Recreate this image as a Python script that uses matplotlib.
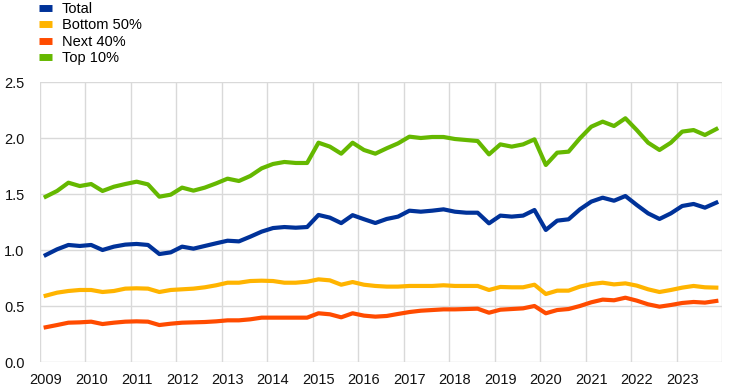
import numpy as np
import matplotlib.pyplot as plt
from matplotlib.lines import Line2D

plt.rcParams['font.family'] = ['Liberation Sans', 'DejaVu Sans']

# quarterly values, 2009Q1 - 2023Q4
total = [0.955, 1.006, 1.045, 1.036, 1.045, 1.000, 1.030, 1.048,
         1.054, 1.045, 0.964, 0.979, 1.030, 1.012, 1.036, 1.060,
         1.083, 1.077, 1.119, 1.164, 1.196, 1.205, 1.199, 1.205,
         1.313, 1.289, 1.240, 1.311, 1.275, 1.241, 1.277, 1.298,
         1.351, 1.342, 1.351, 1.363, 1.342, 1.333, 1.333, 1.238,
         1.307, 1.298, 1.307, 1.357, 1.179, 1.262, 1.274, 1.363,
         1.432, 1.467, 1.440, 1.482, 1.402, 1.327, 1.277, 1.327,
         1.393, 1.411, 1.378, 1.423]
bottom50 = [0.592, 0.619, 0.634, 0.643, 0.643, 0.625, 0.634, 0.655,
            0.658, 0.655, 0.625, 0.643, 0.649, 0.655, 0.667, 0.685,
            0.708, 0.708, 0.723, 0.726, 0.723, 0.708, 0.708, 0.717,
            0.738, 0.729, 0.690, 0.714, 0.690, 0.679, 0.673, 0.673,
            0.679, 0.679, 0.679, 0.685, 0.679, 0.679, 0.679, 0.643,
            0.670, 0.667, 0.667, 0.690, 0.607, 0.637, 0.637, 0.673,
            0.696, 0.708, 0.693, 0.702, 0.682, 0.649, 0.625, 0.643,
            0.664, 0.679, 0.667, 0.664]
next40 = [0.310, 0.330, 0.351, 0.354, 0.360, 0.339, 0.351, 0.360,
          0.363, 0.360, 0.330, 0.342, 0.351, 0.354, 0.357, 0.363,
          0.372, 0.372, 0.381, 0.396, 0.396, 0.396, 0.396, 0.396,
          0.435, 0.426, 0.399, 0.435, 0.414, 0.405, 0.411, 0.429,
          0.446, 0.458, 0.464, 0.470, 0.470, 0.473, 0.476, 0.440,
          0.467, 0.473, 0.479, 0.500, 0.435, 0.464, 0.473, 0.500,
          0.533, 0.557, 0.551, 0.574, 0.548, 0.515, 0.494, 0.509,
          0.527, 0.536, 0.530, 0.545]
top10 = [1.476, 1.527, 1.601, 1.571, 1.589, 1.527, 1.565, 1.589,
         1.610, 1.586, 1.476, 1.494, 1.557, 1.530, 1.557, 1.595,
         1.637, 1.616, 1.661, 1.729, 1.768, 1.786, 1.777, 1.777,
         1.958, 1.923, 1.860, 1.958, 1.893, 1.860, 1.908, 1.952,
         2.012, 2.000, 2.009, 2.009, 1.991, 1.982, 1.973, 1.854,
         1.943, 1.923, 1.943, 1.988, 1.759, 1.869, 1.878, 1.997,
         2.101, 2.146, 2.107, 2.176, 2.071, 1.958, 1.893, 1.958,
         2.057, 2.071, 2.027, 2.080]

names = ['Total', 'Bottom 50%', 'Next 40%', 'Top 10%']
colors = ['#003299', '#FFB400', '#FF4B00', '#65B800']
series = [total, bottom50, next40, top10]
years = list(range(2009, 2024))

x = 2009 + np.arange(len(total)) * 0.25 + 0.125

fig = plt.figure(figsize=(7.44, 3.9), dpi=100)
ax = fig.add_axes([40 / 744, 28 / 390, 682 / 744, 280 / 390])

for vals, c in zip(series, colors):
    ax.plot(x, vals, color=c, lw=3, solid_joinstyle='round')

ax.set_xlim(2009, 2024)
ax.set_ylim(0, 2.5)
ax.set_yticks(np.arange(0, 2.51, 0.5))
ax.set_yticklabels([f'{v:.1f}' for v in np.arange(0, 2.51, 0.5)])
ax.set_xticks(range(2009, 2025), minor=False)
ax.set_xticklabels([''] * 16)
ax.set_xticks([y + 0.125 for y in years], minor=True)
ax.set_xticklabels([str(y) for y in years], minor=True)
ax.tick_params(axis='both', which='both', length=0, labelsize=10.5, colors='#111111')
ax.tick_params(axis='x', which='minor', pad=8)
ax.tick_params(axis='y', pad=11)
ax.grid(True, which='major', color='#d9d9d9', lw=1)
for s in ax.spines.values():
    s.set_visible(False)
ax.set_axisbelow(True)

handles = [Line2D([], [], color=c, lw=5, solid_capstyle='butt') for c in colors]
fig.legend(handles, names, loc='upper left', bbox_to_anchor=(39 / 744, 1 - 2 / 390),
           frameon=False, fontsize=10.5, handlelength=0.9, handletextpad=0.65,
           labelspacing=0.17, borderaxespad=0.0, borderpad=0.0)

fig.savefig('out.png', dpi=100)
